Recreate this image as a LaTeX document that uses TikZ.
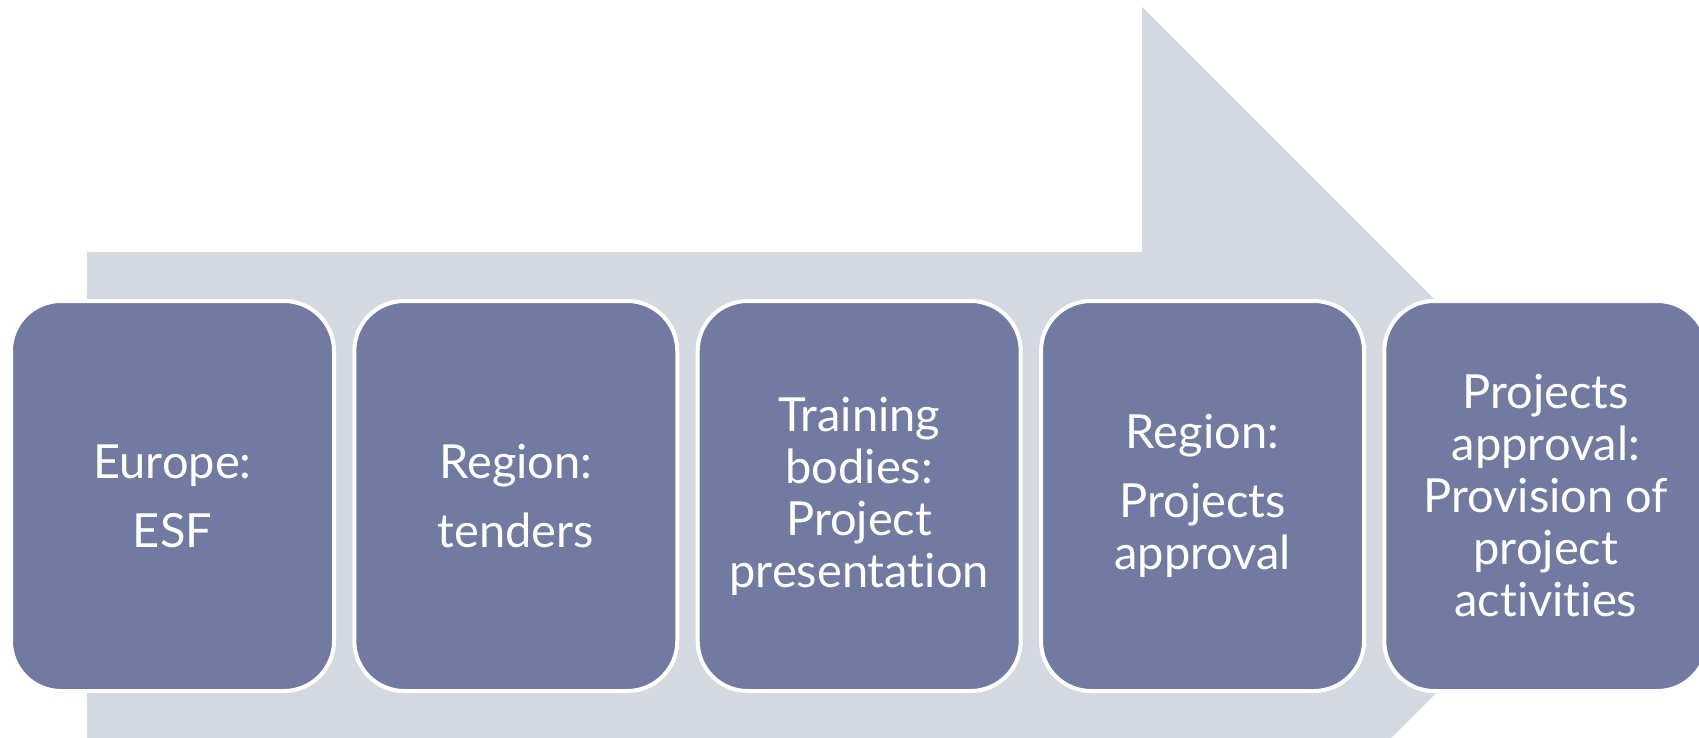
\documentclass[tikz,border=0pt]{standalone}
\usepackage{fontspec}
\setmainfont{Lato}[Ligatures={NoCommon,NoRequired,NoContextual}]
\definecolor{boxfill}{HTML}{717AA0}
\definecolor{arrowfill}{HTML}{D4D8E1}
\begin{document}
\begin{tikzpicture}[x=1pt,y=-1pt,
  stepbox/.style={draw=white, line width=4pt, fill=boxfill, rounded corners=50pt,
    minimum width=323pt, minimum height=390pt, inner sep=0pt,
    text=white, align=center, font=\fontsize{47}{52}\selectfont}]
\useasboundingbox (0,0) rectangle (1699,738);
\begin{scope}
\clip (0,0) rectangle (1699,738);
\fill[arrowfill] (87,252) -- (1142,252) -- (1142,7) -- (1632,497) -- (1142,987)
  -- (1142,742) -- (87,742) -- cycle;
\node[stepbox] (b1) at (172.5,496) {Europe:\\[17pt]ESF};
\node[stepbox] (b2) at (515.8,496) {Region:\\[17pt]tenders};
\node[stepbox] (b3) at (859.2,496) {Training\\bodies:\\Project\\presentation};
\node[stepbox] (b4) at (1202.5,496) {Region:\\[17pt]Projects\\approval};
\node[stepbox] (b5) at (1545.8,496) {Projects\\approval:\\Provision of\\project\\activities};
\end{scope}
\end{tikzpicture}
\end{document}
